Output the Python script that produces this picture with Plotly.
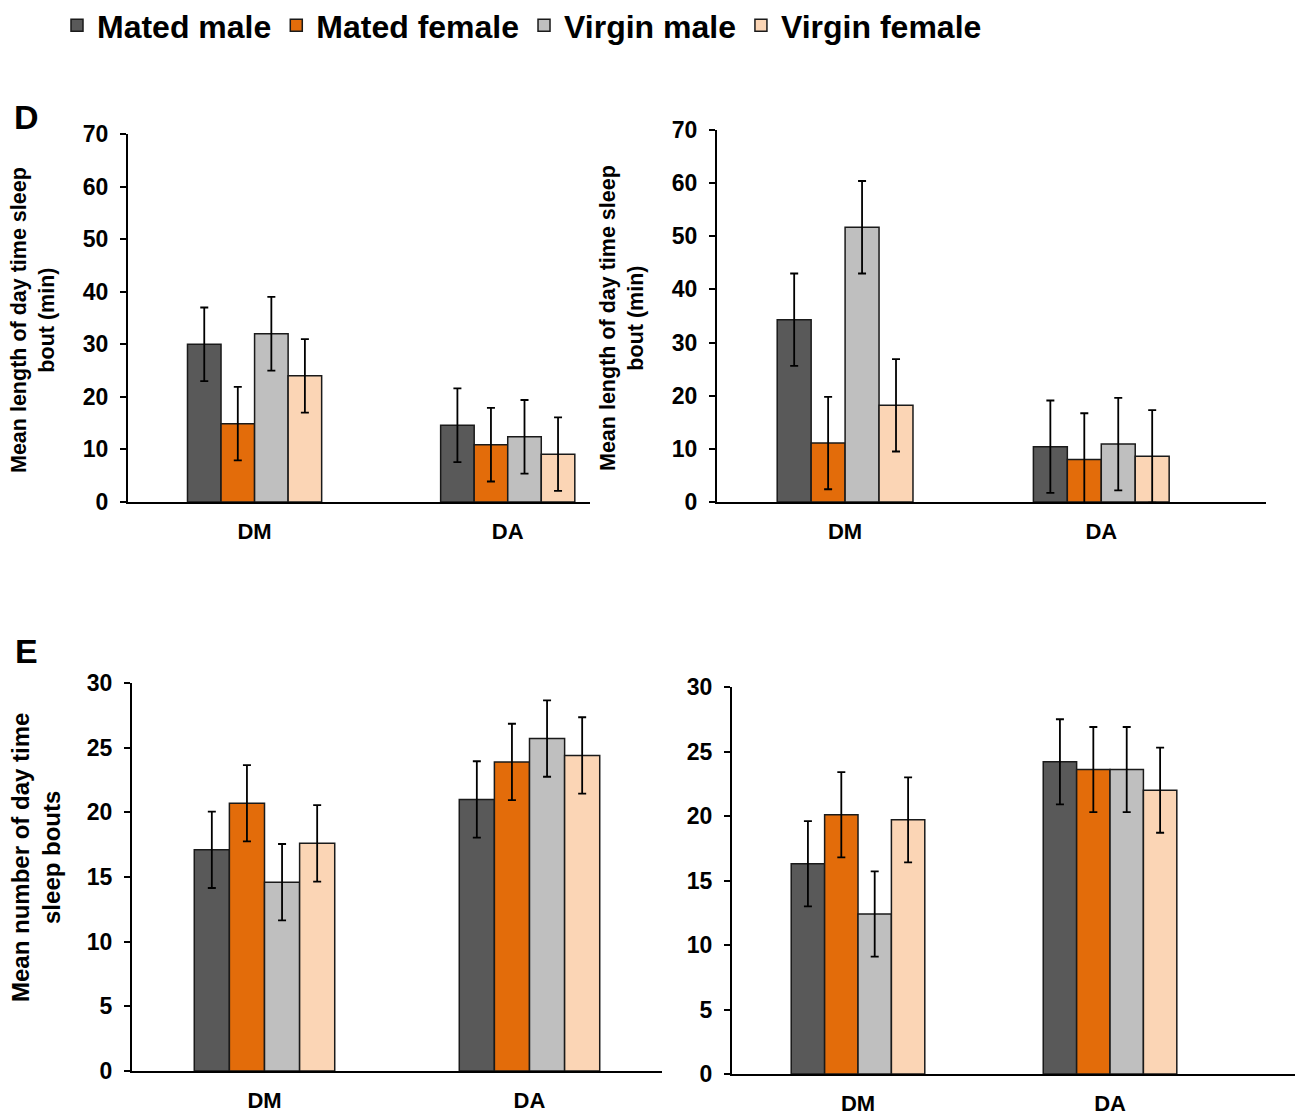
import plotly.graph_objects as go

categories = ["DM", "DA"]
series_names = ["Mated male", "Mated female", "Virgin male", "Virgin female"]
series_colors = ["#595959", "#E36C0A", "#BFBFBF", "#FBD5B5"]

# Panel D (left) - mean length of day time sleep bout (min)
d1_mated_male = [30.0, 14.6]
d1_mated_female = [14.9, 10.9]
d1_virgin_male = [32.0, 12.4]
d1_virgin_female = [24.0, 9.1]
d1_err = [7.0, 7.0]

# Panel D (right)
d2_mated_male = [34.3, 10.4]
d2_mated_female = [11.1, 8.0]
d2_virgin_male = [51.7, 10.9]
d2_virgin_female = [18.2, 8.6]
d2_err = [8.7, 8.7]

# Panel E (left) - mean number of day time sleep bouts
e1_mated_male = [17.1, 21.0]
e1_mated_female = [20.7, 23.9]
e1_virgin_male = [14.6, 25.7]
e1_virgin_female = [17.6, 24.4]
e1_err = [2.95, 2.95]

# Panel E (right)
e2_mated_male = [16.3, 24.2]
e2_mated_female = [20.1, 23.6]
e2_virgin_male = [12.4, 23.6]
e2_virgin_female = [19.7, 22.0]
e2_err = [3.3, 3.3]

W, H = 1307, 1117
OFF = 8  # page body margin
FONT = "Arial, Liberation Sans, sans-serif"

panels = [
    ([d1_mated_male, d1_mated_female, d1_virgin_male, d1_virgin_female], d1_err, "x", "y"),
    ([d2_mated_male, d2_mated_female, d2_virgin_male, d2_virgin_female], d2_err, "x2", "y2"),
    ([e1_mated_male, e1_mated_female, e1_virgin_male, e1_virgin_female], e1_err, "x3", "y3"),
    ([e2_mated_male, e2_mated_female, e2_virgin_male, e2_virgin_female], e2_err, "x4", "y4"),
]

fig = go.Figure()
for pi, (vals, err, xa, ya) in enumerate(panels):
    for si, name in enumerate(series_names):
        fig.add_trace(go.Bar(
            x=categories, y=vals[si], name=name,
            xaxis=xa, yaxis=ya,
            legendgroup=name, showlegend=(pi == 0),
            offsetgroup=str(si),
            marker=dict(color=series_colors[si], line=dict(color="#1a1a1a", width=1.5)),
            error_y=dict(type="data", array=err, visible=True, color="#000000",
                         thickness=1.8, width=4),
        ))


def px_x(p):
    return (p - OFF) / W


def px_y(p):
    return 1 - (p - OFF) / H


doms = {
    "": (128, 590, 502, 134, [-0.5, 1.325], [0, 70], 10),
    "2": (717, 1266, 502, 130, [-0.5, 1.643], [0, 70], 10),
    "3": (132, 662, 1071, 683, [-0.5, 1.5], [0, 30], 5),
    "4": (732, 1295, 1074, 687, [-0.5, 1.734], [0, 30], 5),
}

xtickfont = dict(family=FONT, size=22, color="#000000", weight="bold")
ytickfont = dict(family=FONT, size=23, color="#000000", weight="bold")
layout_axes = {}
for k, (l, r, b, t, xr, yr, dt) in doms.items():
    layout_axes["xaxis" + k] = dict(
        domain=[px_x(l), px_x(r)], anchor="y" + k, type="category",
        range=xr, showline=True, linecolor="#000000", linewidth=2,
        ticks="", showgrid=False, zeroline=False, tickfont=xtickfont,
        ticklabelstandoff=9, fixedrange=True, automargin=False,
    )
    layout_axes["yaxis" + k] = dict(
        domain=[px_y(b), px_y(t)], anchor="x" + k, range=yr, dtick=dt,
        showline=True, linecolor="#000000", linewidth=2,
        ticks="outside", ticklen=6, tickwidth=2, tickcolor="#000000",
        showgrid=False, zeroline=False, tickfont=ytickfont,
        ticklabelstandoff=7, fixedrange=True, automargin=False,
    )

annotations = [
    dict(text="<b>Mean length of day time sleep<br>bout (min)</b>", x=px_x(33), y=px_y(320),
         textangle=-90, font=dict(family=FONT, size=21.5, color="#000000")),
    dict(text="<b>Mean length of day time sleep<br>bout (min)</b>", x=px_x(622), y=px_y(318),
         textangle=-90, font=dict(family=FONT, size=21.5, color="#000000")),
    dict(text="<b>Mean number of day time<br>sleep bouts</b>", x=px_x(36), y=px_y(858),
         textangle=-90, font=dict(family=FONT, size=24, color="#000000")),
    dict(text="<b>D</b>", x=px_x(26), y=px_y(117),
         font=dict(family=FONT, size=34, color="#000000")),
    dict(text="<b>E</b>", x=px_x(26), y=px_y(651),
         font=dict(family=FONT, size=34, color="#000000")),
]
for a in annotations:
    a.update(xref="paper", yref="paper", showarrow=False, xanchor="center", yanchor="middle")

fig.update_layout(
    width=W, height=H,
    margin=dict(l=0, r=0, t=0, b=0, pad=0, autoexpand=False),
    paper_bgcolor="white", plot_bgcolor="white",
    barmode="group", bargap=0.47, bargroupgap=0,
    font=dict(family=FONT, color="#000000"),
    showlegend=True,
    legend=dict(orientation="h", x=px_x(57), y=1 + 10 / H, xanchor="left", yanchor="top",
                font=dict(family=FONT, size=32, color="#000000", weight="bold"),
                bgcolor="rgba(0,0,0,0)", itemclick=False, itemdoubleclick=False),
    annotations=annotations,
    **layout_axes,
)

fig.write_html("out.html")
